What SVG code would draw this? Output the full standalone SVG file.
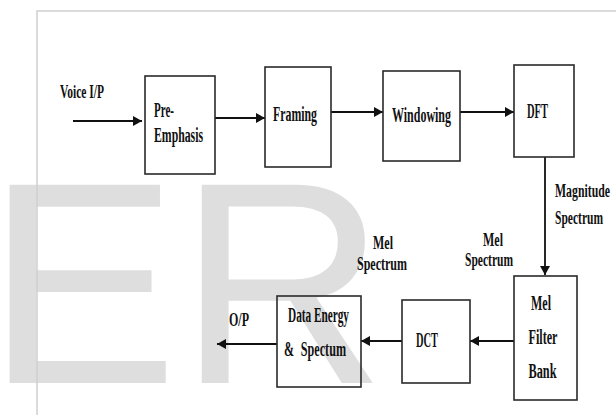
<svg xmlns="http://www.w3.org/2000/svg" width="616" height="415" viewBox="0 0 616 415">
<style>
.wm{font-family:"Liberation Sans",Arial,sans-serif;font-size:288px;fill:#dedede}
.frame{stroke:#cfcfcf;stroke-width:1.5;fill:none}
.box{fill:none;stroke:#2a2a2a;stroke-width:1.6}
.t{font-family:"Liberation Serif","Times New Roman",serif;font-weight:bold;font-size:20px;fill:#111}
.l{font-family:"Liberation Serif","Times New Roman",serif;font-weight:bold;font-size:18px;fill:#111}
.c{stroke:#111;stroke-width:1.8;fill:none;marker-end:url(#ah)}
</style>
<defs>
<marker id="ah" markerUnits="userSpaceOnUse" markerWidth="9" markerHeight="10" refX="9" refY="5" orient="auto">
<path d="M0,0 L9,5 L0,10 z" fill="#111"/>
</marker>
</defs>
<rect width="616" height="415" fill="#fff"/>
<text class="wm" x="-14" y="383">ER</text>
<path class="frame" d="M37,415 V11 H616"/>
<g id="connectors">
<line class="c" x1="73" y1="121" x2="142" y2="121"/>
<line class="c" x1="215" y1="118" x2="265" y2="118"/>
<line class="c" x1="331" y1="112" x2="383" y2="112"/>
<line class="c" x1="460" y1="112" x2="514" y2="112"/>
<line class="c" x1="545" y1="157" x2="545" y2="275"/>
<line class="c" x1="514" y1="341" x2="470" y2="341"/>
<line class="c" x1="402" y1="341" x2="361" y2="341"/>
<line class="c" x1="277" y1="344" x2="217" y2="344"/>
</g>
<g id="labels">
<text class="l" x="60" y="98" textLength="44" lengthAdjust="spacingAndGlyphs">Voice I/P</text>
<text class="l" x="555" y="197" textLength="55" lengthAdjust="spacingAndGlyphs">Magnitude</text>
<text class="l" x="555" y="224" textLength="48" lengthAdjust="spacingAndGlyphs">Spectrum</text>
<text class="l" x="483" y="246" textLength="20" lengthAdjust="spacingAndGlyphs">Mel</text>
<text class="l" x="465" y="266" textLength="48" lengthAdjust="spacingAndGlyphs">Spectrum</text>
<text class="l" x="373" y="249" textLength="20" lengthAdjust="spacingAndGlyphs">Mel</text>
<text class="l" x="357" y="270" textLength="50" lengthAdjust="spacingAndGlyphs">Spectrum</text>
<text class="l" x="229" y="326" textLength="20" lengthAdjust="spacingAndGlyphs">O/P</text>
</g>
<g id="pre-emphasis">
<rect class="box" x="145" y="76" width="70" height="98"/>
<text class="t" x="154" y="117" textLength="20" lengthAdjust="spacingAndGlyphs">Pre-</text>
<text class="t" x="154" y="142" textLength="49" lengthAdjust="spacingAndGlyphs">Emphasis</text>
</g>
<g id="framing">
<rect class="box" x="265" y="67" width="66" height="100"/>
<text class="t" x="273" y="121" textLength="44" lengthAdjust="spacingAndGlyphs">Framing</text>
</g>
<g id="windowing">
<rect class="box" x="383" y="71" width="77" height="90"/>
<text class="t" x="392" y="122" textLength="59" lengthAdjust="spacingAndGlyphs">Windowing</text>
</g>
<g id="dft">
<rect class="box" x="514" y="65" width="60" height="92"/>
<text class="t" x="527" y="117.5" textLength="21" lengthAdjust="spacingAndGlyphs">DFT</text>
</g>
<g id="mel-filter-bank">
<rect class="box" x="514" y="276" width="63" height="124"/>
<text class="t" x="531" y="310" textLength="20" lengthAdjust="spacingAndGlyphs">Mel</text>
<text class="t" x="528.5" y="343.5" textLength="29" lengthAdjust="spacingAndGlyphs">Filter</text>
<text class="t" x="528.5" y="378" textLength="28" lengthAdjust="spacingAndGlyphs">Bank</text>
</g>
<g id="dct">
<rect class="box" x="402" y="300" width="68" height="83"/>
<text class="t" x="416" y="346.5" textLength="22" lengthAdjust="spacingAndGlyphs">DCT</text>
</g>
<g id="data-energy">
<rect class="box" x="277" y="296" width="84" height="91"/>
<text class="t" x="288" y="322" textLength="61" lengthAdjust="spacingAndGlyphs">Data Energy</text>
<text class="t" x="284" y="356" textLength="62" lengthAdjust="spacingAndGlyphs" style="word-spacing:6px">&amp; Spectum</text>
</g>
</svg>
